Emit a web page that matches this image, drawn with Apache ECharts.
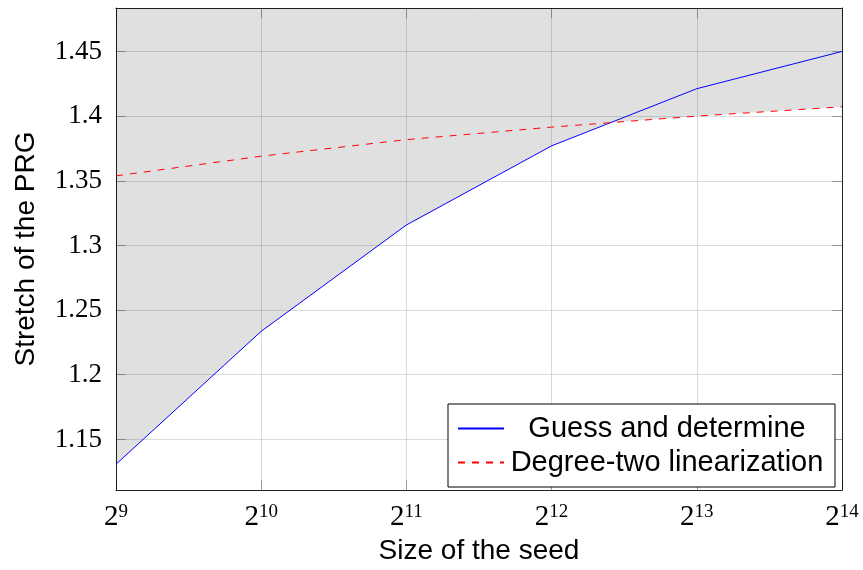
<!DOCTYPE html>
<html lang="en" style="height: 100%">
<head>
    <meta charset="utf-8"/>
    <title>Stretch of the PRG</title>
    <script type="text/javascript" src="https://cdn.jsdelivr.net/npm/echarts@6/dist/echarts.min.js"></script>
</head>
<body style="height: 100%; margin: 0">
<div id="container" style="width: 863px; height: 570px"></div>
<script type="text/javascript">
    // seed sizes (x axis, log base 2)
    var seedSizes = [512, 1024, 2048, 4096, 8192, 16384];
    // stretch values
    var guessDetermine = [1.1308, 1.2336, 1.3158, 1.3770, 1.4212, 1.4500];
    var degreeTwo = [1.3538, 1.3690, 1.3818, 1.3915, 1.4000, 1.4072];
    var yTicks = [1.15, 1.2, 1.25, 1.3, 1.35, 1.4, 1.45];
    var yMin = 1.1108, yMax = 1.4836;

    // gray region: everything above the lower of the two curves
    function lowerEnvelope() {
        var pts = [];
        for (var i = 0; i < seedSizes.length; i++) {
            pts.push([seedSizes[i], Math.min(guessDetermine[i], degreeTwo[i])]);
            if (i < seedSizes.length - 1) {
                var a0 = guessDetermine[i] - degreeTwo[i];
                var a1 = guessDetermine[i + 1] - degreeTwo[i + 1];
                if (a0 * a1 < 0) {
                    var t = a0 / (a0 - a1);
                    var l0 = Math.log2(seedSizes[i]), l1 = Math.log2(seedSizes[i + 1]);
                    pts.push([Math.pow(2, l0 + t * (l1 - l0)),
                        guessDetermine[i] + t * (guessDetermine[i + 1] - guessDetermine[i])]);
                }
            }
        }
        return pts;
    }

    function pairs(ys) {
        return seedSizes.map(function (x, i) { return [x, ys[i]]; });
    }

    var gridColor = 'rgba(0,0,0,0.14)';
    var frame = {show: true, onZero: false, lineStyle: {color: '#222', width: 1}};
    var ticks = {show: true, inside: true, length: 10, lineStyle: {color: 'rgba(0,0,0,0.3)'}};
    var serif = '"Liberation Serif", serif';
    var sans = '"Liberation Sans", Arial, sans-serif';

    var xCommon = {
        type: 'log', logBase: 2, min: 512, max: 16384,
        axisLine: frame, axisTick: ticks
    };
    var yCommon = {
        type: 'value', min: yMin, max: yMax,
        axisLine: frame,
        axisTick: Object.assign({customValues: yTicks}, ticks)
    };

    var myChart = echarts.init(document.getElementById('container'), null, {renderer: 'canvas'});
    var option = {
        animation: false,
        grid: {left: 116, right: 21, top: 8, bottom: 78},
        xAxis: [
            Object.assign({
                position: 'bottom',
                name: 'Size of the seed', nameLocation: 'middle', nameGap: 46,
                nameTextStyle: {fontFamily: sans, fontSize: 28, color: '#000'},
                splitLine: {show: true, lineStyle: {color: gridColor, width: 1}},
                axisLabel: {
                    margin: 12,
                    formatter: function (v) {
                        return '{b|2}{s|' + Math.round(Math.log2(v)) + '}';
                    },
                    rich: {
                        b: {fontFamily: serif, fontSize: 29, color: '#000', lineHeight: 30, verticalAlign: 'bottom'},
                        s: {fontFamily: serif, fontSize: 19, color: '#000', lineHeight: 19, verticalAlign: 'top'}
                    }
                }
            }, xCommon),
            Object.assign({
                position: 'top',
                splitLine: {show: false},
                axisLabel: {show: false}
            }, xCommon)
        ],
        yAxis: [
            Object.assign({
                position: 'left',
                name: 'Stretch of the PRG', nameLocation: 'middle', nameGap: 76,
                nameTextStyle: {fontFamily: sans, fontSize: 28, color: '#000'},
                splitLine: {show: true, lineStyle: {color: gridColor, width: 1}},
                axisLabel: {
                    customValues: yTicks, margin: 14,
                    fontFamily: serif, fontSize: 27, color: '#000',
                    formatter: function (v) { return String(+v.toFixed(2)); }
                }
            }, yCommon),
            Object.assign({
                position: 'right',
                splitLine: {show: false},
                axisLabel: {show: false}
            }, yCommon)
        ],
        legend: {
            data: ['Guess and determine', 'Degree-two linearization'],
            orient: 'vertical',
            right: 28, bottom: 83,
            backgroundColor: '#fff',
            borderColor: '#000', borderWidth: 1, borderRadius: 0,
            padding: [10, 10, 10, 9],
            itemWidth: 46, itemHeight: 14, itemGap: 5,
            itemStyle: {opacity: 0},
            formatter: '{c|{name}}',
            textStyle: {
                color: '#000',
                rich: {
                    c: {fontFamily: sans, fontSize: 29, color: '#000', width: 316, align: 'center', lineHeight: 30}
                }
            }
        },
        series: [
            {
                name: 'region',
                type: 'line',
                data: lowerEnvelope(),
                symbol: 'none',
                lineStyle: {width: 0},
                areaStyle: {origin: 'end', color: 'rgba(0,0,0,0.12)', opacity: 1},
                silent: true,
                z: 1
            },
            {
                name: 'Guess and determine',
                type: 'line',
                data: pairs(guessDetermine),
                symbol: 'none',
                color: '#0000ff',
                lineStyle: {color: '#0000ff', width: 1}
            },
            {
                name: 'Degree-two linearization',
                type: 'line',
                data: pairs(degreeTwo),
                symbol: 'none',
                color: '#ff0000',
                lineStyle: {color: '#ff0000', width: 1, type: [7, 7]}
            }
        ]
    };
    myChart.setOption(option);
</script>
</body>
</html>
